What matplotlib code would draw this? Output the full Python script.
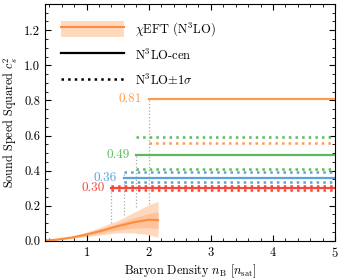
import matplotlib
matplotlib.use("Agg")
import numpy as np
from matplotlib import pyplot as plt
from matplotlib.lines import Line2D
from matplotlib.patches import Patch

plt.rcParams['font.family'] = 'serif'
plt.rcParams['font.serif'] = ['cmr10']
plt.rcParams['mathtext.fontset'] = 'cm'
plt.rcParams['axes.formatter.use_mathtext'] = True
plt.rcParams['font.size'] = 8.8

# chiEFT band
n_chi = [0.33, 0.5, 0.75, 1.0, 1.25, 1.5, 1.75, 2.0, 2.15]
cs2_chi = [0.002, 0.006, 0.018, 0.036, 0.058, 0.083, 0.105, 0.12, 0.118]
inner_lo = [0.002, 0.005, 0.015, 0.03, 0.046, 0.062, 0.072, 0.075, 0.07]
inner_hi = [0.003, 0.007, 0.021, 0.042, 0.07, 0.1, 0.13, 0.155, 0.165]
outer_lo = [0.001, 0.004, 0.012, 0.024, 0.035, 0.045, 0.045, 0.035, 0.02]
outer_hi = [0.003, 0.008, 0.024, 0.05, 0.082, 0.115, 0.16, 0.205, 0.225]

# N3LO constant cs2 after matching density
n_match = [1.4, 1.6, 1.8, 2.0]
cs2_cen = [0.30, 0.36, 0.49, 0.81]
cs2_lo = [0.29, 0.333, 0.409, 0.558]
cs2_hi = [0.312, 0.393, 0.589, 1.40]
labels = ['0.30', '0.36', '0.49', '0.81']
colors = ['#f4473a', '#5aa2d8', '#5cba5c', '#ff9a4a']
vline_bottom = [0.10, 0.146, 0.19, 0.21]
vline_top = [0.312, 0.393, 0.49, 0.81]

orange = '#ff8c3a'
n_max = 5.0

fig = plt.figure(figsize=(3.43, 2.8), dpi=100)
ax = fig.add_axes([0.131, 0.14, 0.846, 0.846])

ax.fill_between(n_chi, outer_lo, outer_hi, color='#ffd9bd', lw=0, zorder=1)
ax.fill_between(n_chi, inner_lo, inner_hi, color='#ffc29a', lw=0, zorder=1)
ax.plot(n_chi, cs2_chi, color=orange, lw=1.5, zorder=2)

for n0, c, lo, hi, lab, col, vb, vt in zip(n_match, cs2_cen, cs2_lo, cs2_hi,
                                          labels, colors, vline_bottom, vline_top):
    ax.plot([n0, n0], [vb, vt], color='#aaaaaa', ls=':', lw=0.9, zorder=1)
    ax.plot([n0, n_max], [c, c], color=col, lw=1.6, zorder=3)
    ax.plot([n0, n_max], [lo, lo], color=col, lw=1.8, ls=':', zorder=3)
    ax.plot([n0, n_max], [hi, hi], color=col, lw=1.8, ls=':', zorder=3)
    ax.text(n0 - 0.11, c, lab, color=col, ha='right', va='center', fontsize=9.5)

ax.set_xlim(0.33, 5)
ax.set_ylim(0, 1.35)
ax.set_xticks([1, 2, 3, 4, 5])
ax.set_xticks(np.arange(0.4, 5.01, 0.2), minor=True)
ax.set_yticks(np.arange(0, 1.21, 0.2))
ax.set_yticks(np.arange(0, 1.35, 0.05), minor=True)
ax.yaxis.set_major_formatter(matplotlib.ticker.FormatStrFormatter('%.1f'))
ax.tick_params(which='both', direction='in', top=True, right=True)
ax.tick_params(which='major', length=4, labelsize=9)
ax.tick_params(which='minor', length=2)

ax.set_xlabel(r'Baryon Density $n_{\rm B}$ [$n_{\rm sat}$]', labelpad=2)
ax.set_ylabel(r'Sound Speed Squared $c_s^2$', labelpad=3)

h_chi = (Patch(color='#ffd9bd', lw=0), Line2D([], [], color=orange, lw=1.5))
h_cen = Line2D([], [], color='k', lw=1.6)
h_err = Line2D([], [], color='k', lw=1.8, ls=':')
ax.legend([h_chi, h_cen, h_err],
          [r'$\chi$EFT (N$^3$LO)', r'N$^3$LO-cen', r'N$^3$LO$\pm1\sigma$'],
          loc='upper left', frameon=False, handlelength=5.0, fontsize=9,
          labelspacing=0.75, handleheight=1.6, handletextpad=0.9,
          borderaxespad=0.9)

fig.savefig('out.png', dpi=100)
